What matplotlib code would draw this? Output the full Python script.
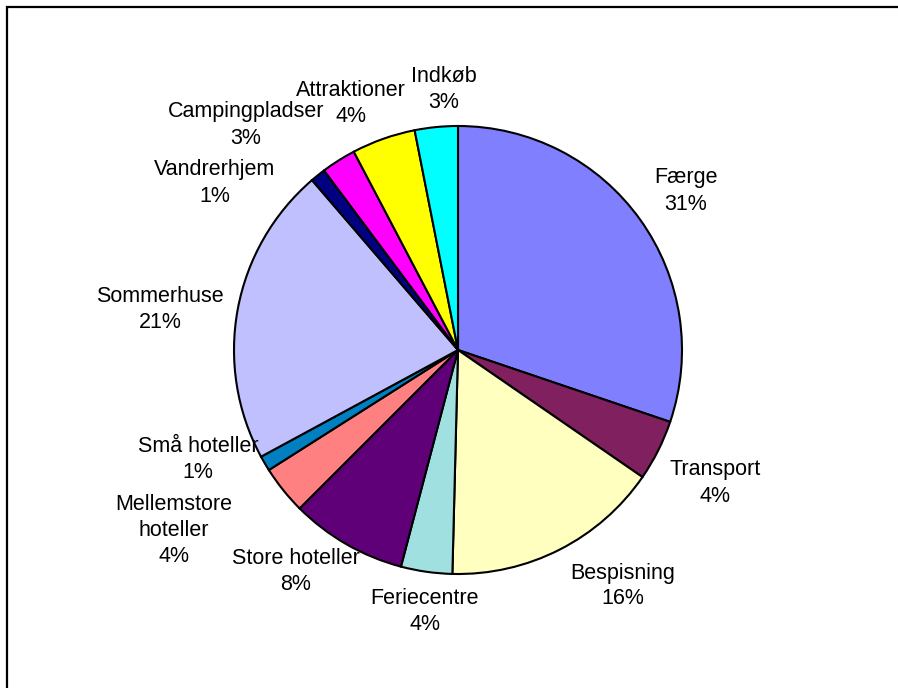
import matplotlib
matplotlib.use("Agg")
import matplotlib.pyplot as plt

categories = ["Færge", "Transport", "Bespisning", "Feriecentre", "Store hoteller",
              "Mellemstore\nhoteller", "Små hoteller", "Sommerhuse", "Vandrerhjem",
              "Campingpladser", "Attraktioner", "Indkøb"]
values = [30.2, 4.4, 15.8, 3.7, 8.4, 3.5, 1.1, 21.6, 1.1, 2.5, 4.6, 3.1]
pct_labels = ["31%", "4%", "16%", "4%", "8%", "4%", "1%", "21%", "1%", "3%", "4%", "3%"]
colors = ["#8080FF", "#80205F", "#FFFFC0", "#A0E0E0", "#600078", "#FF8080",
          "#0080C0", "#C0C0FF", "#000080", "#FF00FF", "#FFFF00", "#00FFFF"]

# label centres in pixel coordinates (layout only)
label_pos = [(686, 191), (715, 483), (623, 586), (425, 611), (296, 571),
             (174, 531), (198, 459), (160, 310), (215, 183), (246, 125),
             (351, 104), (444, 90)]

W, H = 898, 688
LINE_STEP = 26  # pixels between text lines
plt.rcParams['font.family'] = ['Liberation Sans', 'DejaVu Sans']
fig = plt.figure(figsize=(W / 100, H / 100), dpi=100)
ax = fig.add_axes([0, 0, 1, 1])

cx, cy, r = 458, 350, 224
ax.pie(values, colors=colors, startangle=90, counterclock=False,
       center=(cx, H - cy), radius=r, frame=True,
       wedgeprops=dict(edgecolor='black', linewidth=1.5))
ax.set_xlim(0, W)
ax.set_ylim(0, H)
ax.set_aspect('equal')
ax.axis('off')

for name, pct, (x, y) in zip(categories, pct_labels, label_pos):
    lines = name.split("\n") + [pct]
    n = len(lines)
    for i, line in enumerate(lines):
        ly = y + (i - (n - 1) / 2) * LINE_STEP
        ax.text(x, H - ly, line, ha='center', va='center',
                fontsize=15.5, color='black')

# frame lines (left and top)
ax.plot([7, 7, W], [0, H - 7, H - 7], color='black', linewidth=1.6,
        solid_joinstyle='miter', clip_on=False)

fig.savefig("out.png", dpi=100)
